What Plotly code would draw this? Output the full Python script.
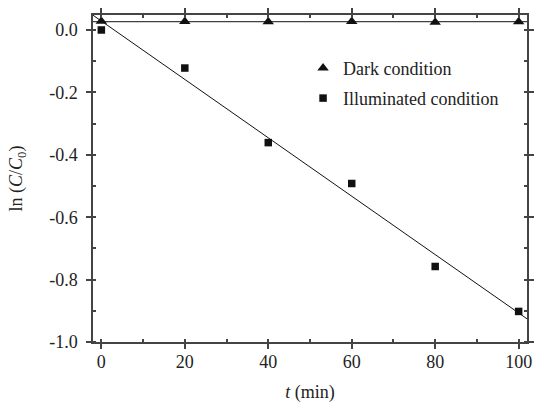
import numpy as np
import plotly.graph_objects as go

time_min = [0, 20, 40, 60, 80, 100]
dark_ln = [0.028, 0.027, 0.026, 0.027, 0.025, 0.026]
illum_ln = [0.0, -0.122, -0.361, -0.492, -0.758, -0.902]

x_ticks = [0, 20, 40, 60, 80, 100]
y_ticks = [0.0, -0.2, -0.4, -0.6, -0.8, -1.0]
y_tick_labels = ["0.0", "-0.2", "-0.4", "-0.6", "-0.8", "-1.0"]

x_range = [-2, 102]
font_family = "Liberation Serif, Times New Roman, serif"

fig = go.Figure()

# Fit lines
xf = np.array(x_range, dtype=float)
dark_mean = float(np.mean(dark_ln))
fig.add_trace(go.Scatter(x=xf, y=[dark_mean, dark_mean], mode="lines",
                         line=dict(color="#111", width=1), showlegend=False, hoverinfo="skip"))
slope, intercept = np.polyfit(time_min, illum_ln, 1)
fig.add_trace(go.Scatter(x=xf, y=slope * xf + intercept, mode="lines",
                         line=dict(color="#111", width=1), showlegend=False, hoverinfo="skip"))

fig.add_trace(go.Scatter(x=time_min, y=dark_ln, mode="markers", name="Dark condition",
                         marker=dict(symbol="triangle-up", size=10, color="#111"),
                         legend="legend"))
fig.add_trace(go.Scatter(x=time_min, y=illum_ln, mode="markers", name="Illuminated condition",
                         marker=dict(symbol="square", size=7.5, color="#111"),
                         legend="legend2"))

axis_common = dict(
    showline=True, linecolor="#444", linewidth=1.5, mirror="ticks",
    ticks="outside", ticklen=5, tickwidth=1.5, tickcolor="#444",
    showgrid=False, zeroline=False,
    tickfont=dict(family=font_family, size=18, color="#222"),
)

fig.update_xaxes(
    range=x_range, tickvals=x_ticks, ticklabelstandoff=-2,
    minor=dict(ticks="inside", ticklen=3, tickcolor="#444", dtick=10, tick0=0),
    title=dict(text="<i>t</i> (min)", font=dict(family=font_family, size=18, color="#222"), standoff=15),
    **axis_common,
)
fig.update_yaxes(
    range=[-1.0, 0.048], tickvals=y_ticks, ticktext=y_tick_labels, ticklabelstandoff=5,
    minor=dict(ticks="inside", ticklen=3, tickcolor="#444", dtick=0.1, tick0=0),
    title=dict(text="ln (<i>C</i>/<i>C</i><sub>0</sub>)", font=dict(family=font_family, size=18, color="#222"), standoff=22),
    **axis_common,
)

legend_style = dict(font=dict(family=font_family, size=18, color="#222"),
                    bgcolor="rgba(0,0,0,0)", xanchor="left", yanchor="middle")
fig.update_layout(
    width=537, height=403,
    margin=dict(l=93, r=3, t=15, b=60),
    paper_bgcolor="white", plot_bgcolor="white",
    legend=dict(x=0.484, y=0.837, **legend_style),
    legend2=dict(x=0.484, y=0.745, **legend_style),
)

fig.write_html("out.html")
